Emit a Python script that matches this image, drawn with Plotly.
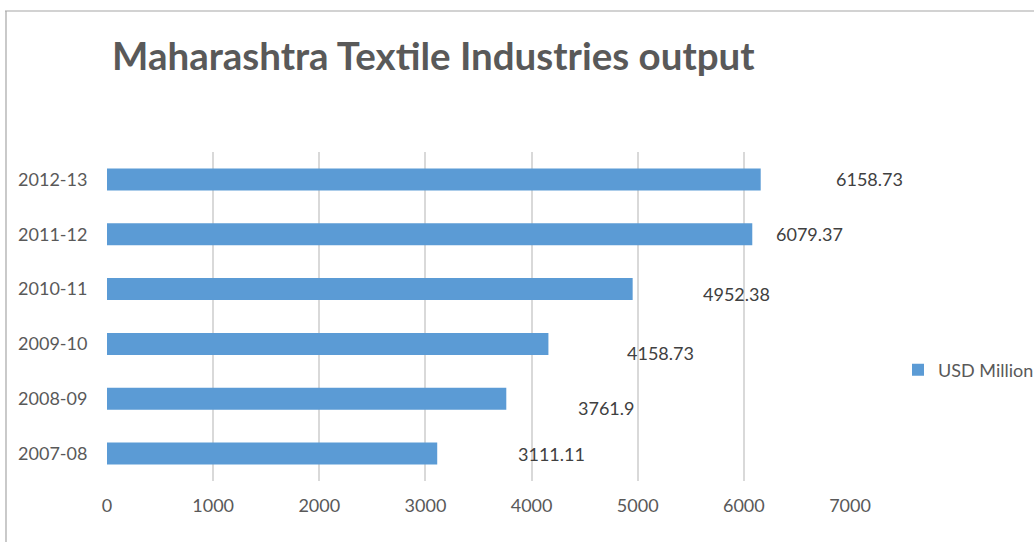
import plotly.graph_objects as go

years = ["2007-08", "2008-09", "2009-10", "2010-11", "2011-12", "2012-13"]
usd_million = [3111.11, 3761.9, 4158.73, 4952.38, 6079.37, 6158.73]
label_text = ["3111.11", "3761.9", "4158.73", "4952.38", "6079.37", "6158.73"]
x_ticks = [0, 1000, 2000, 3000, 4000, 5000, 6000, 7000]
x_max = 7000

# label offsets (data units / pixels) to mimic the dragged Excel labels
label_dx = [1074, 941, 1053, 976, 537, 1022]
label_dy = [0, -9, -9, -5, 0, 0]

W, H = 1034, 542
L, R, T, B = 107, 184, 152, 61
FONT = "Lato"

fig = go.Figure()
fig.add_trace(go.Bar(
    y=years, x=usd_million, orientation="h",
    name="USD Million",
    marker=dict(color="#5B9BD5", line=dict(width=0)),
    width=0.4,
))

for yv, xv, t, dx, dy in zip(years, usd_million, label_text, label_dx, label_dy):
    fig.add_annotation(x=(xv + dx) / x_max, xref="paper", y=yv, yref="y",
                       text=t, showarrow=False,
                       xanchor="center", yanchor="middle", yshift=dy,
                       font=dict(family=FONT, size=18, color="#404040"))

# outer chart border (top and left)
pw, ph = W - L - R, H - T - B
fig.add_shape(type="line", xref="paper", yref="paper",
              x0=(5 - L) / pw, x1=(W + 5 - L) / pw,
              y0=1 + (T - 11) / ph, y1=1 + (T - 11) / ph,
              line=dict(color="#A6A6A6", width=1.2))
fig.add_shape(type="line", xref="paper", yref="paper",
              x0=(6 - L) / pw, x1=(6 - L) / pw,
              y0=1 + (T - 11) / ph, y1=-(B + 5) / ph,
              line=dict(color="#A6A6A6", width=1.2))

fig.update_layout(
    width=W, height=H,
    margin=dict(l=L, r=R, t=T, b=B, autoexpand=False),
    paper_bgcolor="white", plot_bgcolor="white",
    title=dict(text="<b>Maharashtra Textile Industries output</b>",
               x=112 / W, xanchor="left", y=1 - 57 / H, yanchor="middle",
               xref="container", yref="container",
               font=dict(family=FONT, size=38.5, color="#595959")),
    xaxis=dict(range=[0, x_max], tickvals=x_ticks, ticktext=[str(v) for v in x_ticks],
               showgrid=True, gridcolor="#D9D9D9", gridwidth=1.5,
               zeroline=False, showline=False, automargin=False,
               ticks="outside", ticklen=8, tickcolor="rgba(0,0,0,0)",
               tickfont=dict(family=FONT, size=18, color="#595959")),
    yaxis=dict(type="category", categoryorder="array", categoryarray=years,
               range=[-0.5, 5.5], showgrid=False, zeroline=False, showline=False,
               automargin=False,
               ticks="outside", ticklen=15, tickcolor="rgba(0,0,0,0)",
               tickfont=dict(family=FONT, size=18, color="#595959")),
    showlegend=True,
    legend=dict(xref="container", yref="container",
                x=898 / W, xanchor="left",
                y=1 - 370 / H, yanchor="middle",
                font=dict(family=FONT, size=18, color="#595959"),
                itemwidth=30, bgcolor="rgba(0,0,0,0)"),
)

fig.write_html("out.html", config={"displayModeBar": False},
               post_script="document.body.style.margin='0';")
